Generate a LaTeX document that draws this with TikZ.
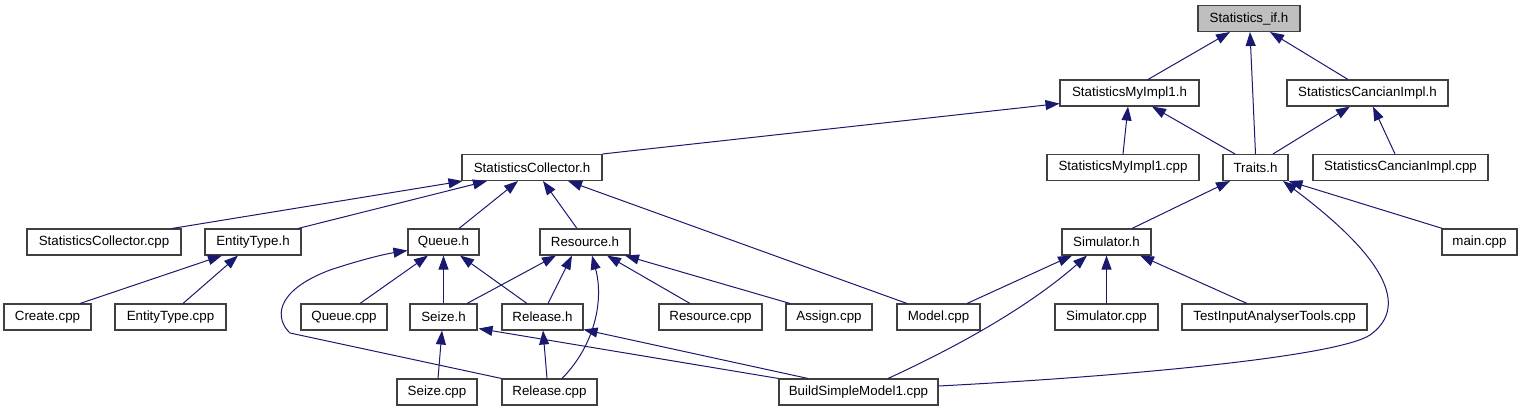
\documentclass[tikz,border=0pt]{standalone}
\usepackage{fontspec}
\setmainfont{Liberation Sans}
\usetikzlibrary{arrows.meta,calc}
\definecolor{edgeblue}{HTML}{191970}
\definecolor{boxline}{HTML}{404040}
\definecolor{rootfill}{HTML}{BFBFBF}
\tikzset{
  fbox/.style={draw=boxline, line width=0.8pt, fill=white, inner sep=0pt,
    minimum height=19.5pt, minimum width=#1*0.75pt, font=\fontsize{10}{12}\selectfont},
  dep/.style={draw=edgeblue, line width=0.75pt, -{Triangle[length=10.5pt,width=7.5pt]}},
}
\begin{document}
\begin{tikzpicture}[x=0.75pt,y=-0.75pt]
\useasboundingbox (0,0) rectangle (1523,411);
% row 1
\node[fbox=102, fill=rootfill] (sif) at (1249,18.5) {Statistics\_if.h};
% row 2
\node[fbox=139] (smih) at (1129.5,93) {StatisticsMyImpl1.h};
\node[fbox=161] (scih) at (1367.5,93) {StatisticsCancianImpl.h};
% row 3
\node[fbox=140] (sch) at (532,167.5) {StatisticsCollector.h};
\node[fbox=152] (smicpp) at (1123,167.5) {StatisticsMyImpl1.cpp};
\node[fbox=65] (traits) at (1255.5,167.5) {Traits.h};
\node[fbox=175] (scicpp) at (1400.5,167.5) {StatisticsCancianImpl.cpp};
% row 4
\node[fbox=154] (sccpp) at (104,242) {StatisticsCollector.cpp};
\node[fbox=96] (eth) at (253,242) {EntityType.h};
\node[fbox=71] (queueh) at (443.5,242) {Queue.h};
\node[fbox=90] (resh) at (585,242) {Resource.h};
\node[fbox=89] (simh) at (1106.5,242) {Simulator.h};
\node[fbox=75] (maincpp) at (1479.5,242) {main.cpp};
% row 5
\node[fbox=87] (create) at (47.5,317) {Create.cpp};
\node[fbox=111] (etcpp) at (170.5,317) {EntityType.cpp};
\node[fbox=86] (queuecpp) at (344,317) {Queue.cpp};
\node[fbox=67] (seizeh) at (443.5,317) {Seize.h};
\node[fbox=81] (relh) at (542.5,317) {Release.h};
\node[fbox=103] (rescpp) at (710.5,317) {Resource.cpp};
\node[fbox=86] (assign) at (829,317) {Assign.cpp};
\node[fbox=83] (model) at (938.5,317) {Model.cpp};
\node[fbox=103] (simcpp) at (1106.5,317) {Simulator.cpp};
\node[fbox=185] (tiat) at (1274.5,317) {TestInputAnalyserTools.cpp};
% row 6
\node[fbox=80] (seizecpp) at (437,392) {Seize.cpp};
\node[fbox=95] (relcpp) at (549.5,392) {Release.cpp};
\node[fbox=159] (bsm) at (858.5,392) {BuildSimpleModel1.cpp};

% edges (child -> parent)
\draw[dep] ($(smih.north)+(18.5,0)$) -- ($(sif.south)+(-19,0)$);
\draw[dep] (traits.north) -- ($(sif.south)+(1,0)$);
\draw[dep] ($(scih.north)+(-19.5,0)$) -- ($(sif.south)+(21,0)$);
\draw[dep] (sch.north east) -- ($(smih.south west)+(0,-3)$);
\draw[dep] (smicpp.north) -- ($(smih.south)+(-1.5,0)$);
\draw[dep] ($(traits.north)+(-20.5,0)$) -- ($(smih.south)+(22.5,0)$);
\draw[dep] ($(traits.north)+(17.5,0)$) -- ($(scih.south)+(-17.5,0)$);
\draw[dep] ($(scicpp.north)+(-5.5,0)$) -- ($(scih.south)+(5.5,0)$);
\draw[dep] ($(sccpp.north)+(68,0)$) -- ($(sch.south west)+(1,0)$);
\draw[dep] ($(eth.north)+(45,0)$) -- ($(sch.south)+(-45,0)$);
\draw[dep] ($(queueh.north)+(15.5,0)$) -- ($(sch.south)+(-14,0)$);
\draw[dep] ($(resh.north)+(-8,0)$) -- ($(sch.south)+(11,0)$);
\draw[dep] ($(model.north)+(-31.5,0)$) -- ($(sch.south)+(36,0)$);
\draw[dep] ($(create.north)+(32.5,0)$) -- ($(eth.south)+(-31,0)$);
\draw[dep] ($(etcpp.north)+(12.5,0)$) -- ($(eth.south)+(-15,0)$);
\draw[dep] ($(queuecpp.north)+(16,0)$) -- ($(queueh.south)+(-15.5,0)$);
\draw[dep] (seizeh.north) -- (queueh.south);
\draw[dep] ($(relh.north)+(-15.5,0)$) -- ($(queueh.south)+(16.5,0)$);
\draw[dep] (relcpp.north west) -- (290,333) .. controls (276,320) and (272,292) .. (330,270) .. controls (360,260) and (385,254) .. ($(queueh.south west)+(0,-5)$);
\draw[dep] ($(seizecpp.north)+(1,0)$) -- ($(seizeh.south)+(-1.5,0)$);
\draw[dep] (bsm.north west) -- ($(seizeh.south east)+(1,-2)$);
\draw[dep] ($(relcpp.north)+(-2.5,0)$) -- ($(relh.south)+(0.5,0)$);
\draw[dep] ($(bsm.north)+(-50.5,0)$) -- ($(relh.south east)+(0,-1)$);
\draw[dep] ($(seizeh.north)+(23.5,0)$) -- ($(resh.south)+(-29,0)$);
\draw[dep] ($(relh.north)+(5.5,0)$) -- ($(resh.south)+(-13,0)$);
\draw[dep] ($(relcpp.north)+(12.5,0)$) .. controls (595,345) and (604,300) .. ($(resh.south)+(7,0)$);
\draw[dep] ($(rescpp.north)+(-20.5,0)$) -- ($(resh.south)+(22,0)$);
\draw[dep] ($(assign.north)+(-39,0)$) -- ($(resh.south)+(40,0)$);
\draw[dep] ($(simh.north)+(25.5,0)$) -- ($(traits.south)+(-25.5,0)$);
\draw[dep] ($(bsm.east)+(0,-6)$) .. controls (1150,375) and (1340,355) .. (1370,335) .. controls (1405,310) and (1395,265) .. ($(traits.south)+(27.5,0)$);
\draw[dep] ($(maincpp.north west)+(1,0)$) -- (traits.south east);
\draw[dep] ($(model.north)+(28.5,0)$) -- ($(simh.south)+(-34.5,0)$);
\draw[dep] ($(bsm.north)+(29.5,0)$) .. controls (950,350) and (1025,310) .. ($(simh.south)+(-19.5,0)$);
\draw[dep] (simcpp.north) -- (simh.south);
\draw[dep] ($(tiat.north)+(-27.5,0)$) -- ($(simh.south)+(33.5,0)$);
\end{tikzpicture}
\end{document}
